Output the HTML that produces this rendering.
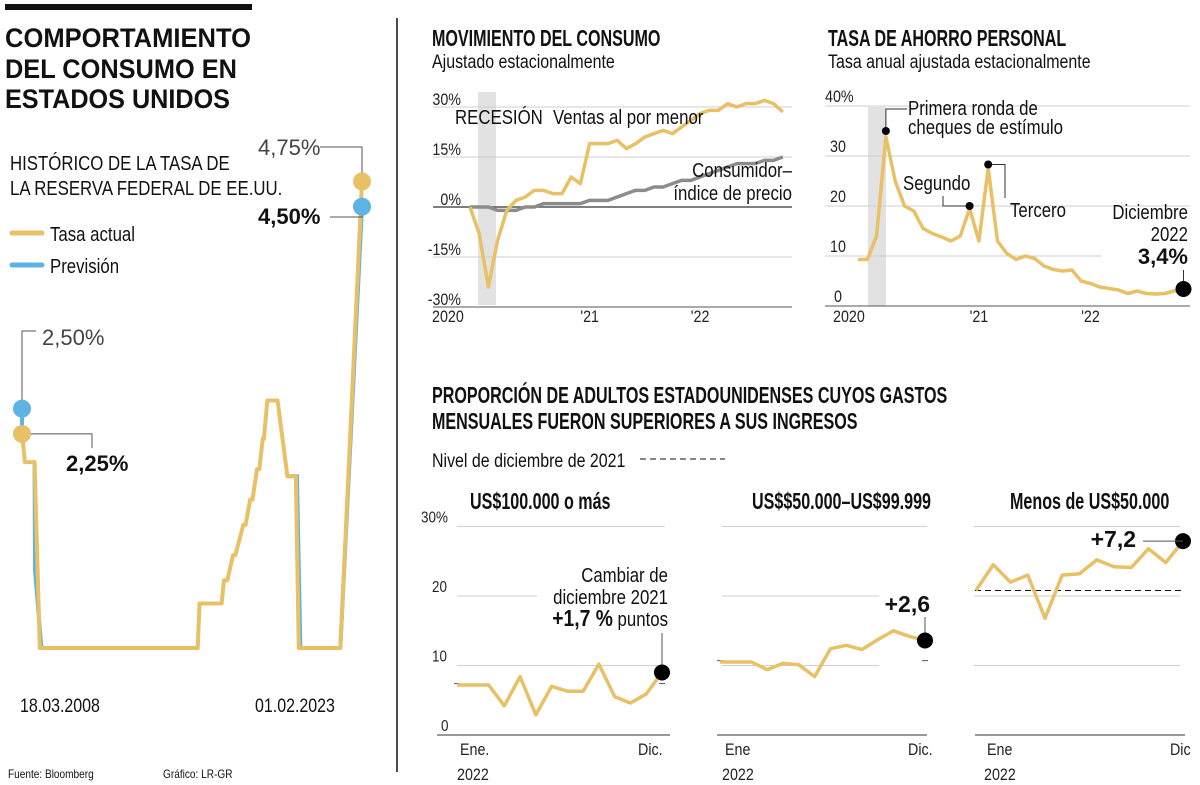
<!DOCTYPE html>
<html><head><meta charset="utf-8"><style>
html,body{margin:0;padding:0;background:#fff;}
svg{display:block;font-family:"Liberation Sans",sans-serif;}
.t{fill:#111;}
</style></head><body>
<svg id="root" width="1200" height="785" viewBox="0 0 1200 785" xmlns="http://www.w3.org/2000/svg">
<rect x="5" y="4" width="247" height="6" fill="#111"/>
<g font-family="Liberation Sans, sans-serif" font-weight="bold" font-size="27" fill="#111">
<text x="5" y="47" textLength="246" lengthAdjust="spacingAndGlyphs">COMPORTAMIENTO</text>
<text x="5" y="78" textLength="232" lengthAdjust="spacingAndGlyphs">DEL CONSUMO EN</text>
<text x="5" y="108" textLength="225" lengthAdjust="spacingAndGlyphs">ESTADOS UNIDOS</text>
</g>
<line x1="397" y1="18" x2="397" y2="772" stroke="#111" stroke-width="1.5"/>

<text x="10" y="170" font-size="20" class="t">HISTÓRICO DE LA TASA DE</text>
<text x="10" y="195" font-size="20" class="t">LA RESERVA FEDERAL DE EE.UU.</text>
<line x1="12" y1="233" x2="42" y2="233" stroke="#e8c066" stroke-width="5" stroke-linecap="round"/>
<text x="50" y="241" font-size="20" class="t">Tasa actual</text>
<line x1="12" y1="265" x2="42" y2="265" stroke="#5fb3e4" stroke-width="5" stroke-linecap="round"/>
<text x="50" y="273" font-size="20" class="t">Previsión</text>
<g id="fed"></g>
<text x="20" y="712" font-size="19" class="t">18.03.2008</text>
<text x="255" y="712" font-size="19" class="t">01.02.2023</text>
<text x="8" y="778" font-size="12" class="t">Fuente: Bloomberg</text>
<text x="163" y="778" font-size="12" class="t">Gráfico: LR-GR</text>

<text x="432" y="46" font-size="23" font-weight="bold" class="t">MOVIMIENTO DEL CONSUMO</text>
<text x="432" y="68" font-size="19" class="t">Ajustado estacionalmente</text>
<g id="cons"></g>

<text x="828" y="46" font-size="23" font-weight="bold" class="t">TASA DE AHORRO PERSONAL</text>
<text x="828" y="68" font-size="19" class="t">Tasa anual ajustada estacionalmente</text>
<g id="ahorro"></g>

<text x="432" y="403" font-size="23" font-weight="bold" class="t">PROPORCIÓN DE ADULTOS ESTADOUNIDENSES CUYOS GASTOS</text>
<text x="432" y="429" font-size="23" font-weight="bold" class="t">MENSUALES FUERON SUPERIORES A SUS INGRESOS</text>
<text x="432" y="467" font-size="19" class="t">Nivel de diciembre de 2021</text>
<line x1="640" y1="459" x2="725" y2="459" stroke="#111" stroke-dasharray="6,4"/>
<g id="prop"></g>
</svg>
<script>
const NS='http://www.w3.org/2000/svg';
function mk(parent,tag,attrs,txt){const e=document.createElementNS(NS,tag);for(const k in attrs)e.setAttribute(k,attrs[k]);if(txt!==undefined)e.textContent=txt;parent.appendChild(e);return e;}
const YEL='#e8c066',BLUE='#5fb3e4',GREY='#8c8c8c',GRID='#cfcfcf';

// ---------- Fed rate data ----------
const fedDates=[2008.2,2008.33,2008.75,2008.98,2015.9,2015.98,2016.95,2017.05,2017.2,2017.45,2017.55,2017.9,2018.0,2018.2,2018.3,2018.5,2018.6,2018.75,2018.8,2018.95,2019.4,2019.83,2020.2,2020.33,2022.15,2023.1];
const fedRates=[2.25,1.97,1.97,0.13,0.13,0.57,0.57,0.8,0.8,1.05,1.05,1.35,1.35,1.6,1.6,1.9,1.9,2.2,2.2,2.58,2.58,1.83,1.83,0.13,0.13,4.75];
const fcDates=[2008.2,2008.2,null,2008.75,2008.77,2009.05,null,2019.83,2020.25,2020.4,null,2022.15,2023.1];
const fcRates=[2.5,2.25,null,1.97,0.9,0.13,null,1.83,1.83,0.13,null,0.13,4.5];
const fedEnd=[4.75,4.50];
const fx=d=>22+(d-2008.2)*(340/14.9);
const fy=v=>648-(v-0.13)*101;
(function(){
 const g=document.getElementById('fed');
 let p='',mv=true;
 fcDates.forEach((d,i)=>{if(d===null){mv=true;return;}p+=(mv?'M':'L')+fx(d)+' '+fy(fcRates[i])+' ';mv=false;});
 const fl=mk(g,'path',{d:p,fill:'none',stroke:BLUE,'stroke-width':4});
 
 
 p=fedDates.map((d,i)=>(i?'L':'M')+fx(d)+' '+fy(fedRates[i])).join(' ');
 const al=mk(g,'path',{d:p,fill:'none',stroke:YEL,'stroke-width':4,'stroke-linejoin':'round'});
 
 
 const ex=fx(2023.1);
 const leaders=[`M22 ${fy(2.5)} V331 H36`,`M22 ${fy(2.25)} H92 V448`,`M${ex} ${fy(fedEnd[0])} V147 H320`,`M${ex} ${fy(fedEnd[1])} V217 H330`];
 leaders.forEach(l=>{const e=mk(g,'path',{d:l,fill:'none',stroke:'#555','stroke-width':1});
  
  });
 const dots=[[22,fy(2.5),BLUE],[22,fy(2.25),YEL],[ex,fy(fedEnd[1]),BLUE],[ex,fy(fedEnd[0]),YEL]];
 dots.forEach(d=>{const c=mk(g,'circle',{cx:d[0],cy:d[1],r:9,fill:d[2]});
  
  });
 const labs=[[42,345,'2,50%','normal'],[66,471,'2,25%','bold'],[258,155,'4,75%','normal'],[258,224,'4,50%','bold']];
 labs.forEach(l=>{const t=mk(g,'text',{x:l[0],y:l[1],'font-size':22,'font-weight':l[3],fill:l[3]=='bold'?'#111':'#444','data-nocompress':'1'},l[2]);
  
  });
})();

// ---------- Consumo ----------
const consTicks=[30,15,0,-15,-30];
const consTickLabels=['30%','15%','0%','-15%','-30%'];
const ventas=[0,-8,-24,-10,-1,2,3,5,5,4,4,9,7,19,19,19,20,17.5,19,21,22,23,22,24,26,28,29,29,31,30,31,31,32,31,28.5];
const cpi=[0,0,0,-1,-1,-1,0,0,1,1,1,1,1,2,2,2,3,4,5,5,6,6,7,8,8,9,10,11,12,13,13,13,14,14,15,15];
const xLabels=['2020',"'21","'22"];
(function(){
 const g=document.getElementById('cons');
 const x=m=>470+m*9.2, y=v=>207-v*(100/30);
 const r=mk(g,'rect',{x:478,y:92,width:18,height:213,fill:'#e2e2e2'});
 
 
 consTicks.forEach((v,i)=>{
  const l=mk(g,'line',{x1:433,x2:792,y1:y(v),y2:y(v),stroke:v===0||v===-30?'#555':GRID,'stroke-width':v===0?1.5:1});
  
  
  const t=mk(g,'text',{x:461,y:y(v)-2,'font-size':17,'text-anchor':'end',fill:'#222'},consTickLabels[i]);
  
  
 });
 [0,12,24].forEach((m,i)=>{const t=mk(g,'text',{x:x(m)+(i?0:-38),y:322,'font-size':17,fill:'#222'},xLabels[i]);
  
  });
 const c=mk(g,'path',{d:cpi.slice(0,35).map((v,i)=>(i?'L':'M')+x(i)+' '+y(v)).join(' '),fill:'none',stroke:GREY,'stroke-width':3.5});
 
 
 const v=mk(g,'path',{d:ventas.map((v,i)=>(i?'L':'M')+x(i)+' '+y(v)).join(' '),fill:'none',stroke:YEL,'stroke-width':3.5,'stroke-linejoin':'round'});
 
 
 const ls=[[455,124,'RECESIÓN','start'],[553,124,'Ventas al por menor','start'],[792,177,'Consumidor–','end'],[792,200,'índice de precio','end']];
 ls.forEach(l=>{const t=mk(g,'text',{x:l[0],y:l[1],'font-size':20,'text-anchor':l[3],fill:'#111'},l[2]);
  
  });
})();

// ---------- Ahorro ----------
const ahTicks=[40,30,20,10,0];
const ahTickLabels=['40%','30','20','10','0'];
const ahorro=[9.3,9.3,14,33.8,25,20,19,15.5,14.5,13.8,13,14,19.5,13,27.5,13,10.5,9.3,10,9.5,8,7.3,7,7.2,5,4.5,3.8,3.5,3.2,2.5,3,2.5,2.4,2.5,3,3.4];
(function(){
 const g=document.getElementById('ahorro');
 const x=m=>858+m*9.3, y=v=>306-v*5;
 const r=mk(g,'rect',{x:868,y:107,width:18,height:199,fill:'#e2e2e2'});
 
 
 ahTicks.forEach((v,i)=>{
  const l=mk(g,'line',{x1:825,x2:v===10?1102:1190,y1:y(v),y2:y(v),stroke:v===0?'#555':GRID,'stroke-width':1});
  
  
  const t=mk(g,'text',{x:v===40?825:(v===0?834:830),y:y(v)-4,'font-size':17,fill:'#222'},ahTickLabels[i]);
  
  
 });
 [0,12,24].forEach((m,i)=>{const t=mk(g,'text',{x:x(m)+(i?0:-25),y:322,'font-size':17,fill:'#222'},xLabels[i]);
  
  });
 const p=mk(g,'path',{d:ahorro.map((v,i)=>(i?'L':'M')+x(i)+' '+y(v)).join(' '),fill:'none',stroke:YEL,'stroke-width':3.5,'stroke-linejoin':'round'});
 
 
 const lead=[`M${x(3)} ${y(35)} V109 H907`,`M${x(12)} ${y(20)} H943 V196`,`M${x(14)} ${y(28.3)} H1005 V198`,`M${x(35)} ${y(3.4)} V270`];
 lead.forEach(d=>{const e=mk(g,'path',{d:d,fill:'none',stroke:'#333','stroke-width':1});
  
  });
 [[3,35,4],[12,20,4],[14,28.3,4],[35,3.4,8]].forEach(d=>{const c=mk(g,'circle',{cx:x(d[0]),cy:y(d[1]),r:d[2],fill:'#000'});
  
  });
 const ls=[[908,115,'Primera ronda de','start','normal',20],[908,134,'cheques de estímulo','start','normal',20],[903,190,'Segundo','start','normal',20],[1010,217,'Tercero','start','normal',20],[1188,219,'Diciembre','end','normal',20],[1188,241,'2022','end','normal',20],[1188,264,'3,4%','end','bold',22]];
 ls.forEach(l=>{const a={x:l[0],y:l[1],'font-size':l[5],'text-anchor':l[3],'font-weight':l[4],fill:'#111'};
  if(l[4]==='bold')a['data-nocompress']='1';
  const t=mk(g,'text',a,l[2]);
  
  });
})();

// ---------- Proporción ----------
const propTicks=[30,20,10,0];
const propTickLabels=['30%','20','10','0'];
const high=[7.2,7.2,7.2,4.2,8.4,2.9,7.0,6.3,6.3,10.2,5.5,4.6,5.9,9.0];
const mid=[10.5,10.5,10.5,9.4,10.3,10.1,8.4,12.4,12.9,12.3,13.7,15.0,14.2,13.6];
const low=[20.8,24.5,22,23,16.8,23,23.2,25.2,24.2,24.1,26.8,24.8,27.9];
const decLevels=[7.4,10.7,20.8];
const panelTitles=['US$100.000 o más','US$$50.000–US$99.999','Menos de US$50.000'];
(function(){
 const g=document.getElementById('prop');
 const y=v=>735-v*6.95;
 const panels=[{x0:457,x1:662,ax0:437,ax1:670,gx0:457,gx1:665,tx:470,data:high,ene:'Ene.',dic:'Dic.',dicx:638,ex:460},
  {x0:720,x1:925,ax0:717,ax1:927,gx0:722,gx1:927,tx:752,data:mid,ene:'Ene',dic:'Dic.',dicx:908,ex:725},
  {x0:976,x1:1183,ax0:975,ax1:1185,gx0:974,gx1:1180,tx:1010,data:low,ene:'Ene',dic:'Dic',dicx:1170,ex:987}];
 panels.forEach((p,pi)=>{
  const px=i=>p.x0+i*(p.x1-p.x0)/(p.data.length-1);
  const t=mk(g,'text',{x:p.tx,y:509,'font-size':23,'font-weight':'bold',fill:'#111'},panelTitles[pi]);
  
  
  propTicks.forEach((v,i)=>{
   let gx1=p.gx1;
   if(pi===0&&v===20)gx1=537;
   if(pi===1&&(v===20||v===10))gx1=879;
   const l=mk(g,'line',{x1:v===0?p.ax0:p.gx0,x2:v===0?p.ax1:gx1,y1:y(v),y2:y(v),stroke:v===0?'#333':GRID,'stroke-width':1});
   
   
   if(pi===0){const tl=mk(g,'text',{x:v===30?421:(v===0?441:432),y:y(v)-4,'font-size':16,fill:'#222'},propTickLabels[i]);
    
    }
  });
  if(pi===2){const d=mk(g,'line',{x1:p.ax0,x2:p.ax1,y1:y(decLevels[2]),y2:y(decLevels[2]),stroke:'#111','stroke-dasharray':'6,4'});
   
   }
  else{[p.x0,p.x1].forEach(xx=>{const d=mk(g,'line',{x1:xx-3,x2:xx+3,y1:y(decLevels[pi]),y2:y(decLevels[pi]),stroke:'#555'});
   
   });}
  const ln=mk(g,'path',{d:p.data.map((v,i)=>(i?'L':'M')+px(i)+' '+y(v)).join(' '),fill:'none',stroke:YEL,'stroke-width':3.5,'stroke-linejoin':'round'});
  
  
  const last=p.data[p.data.length-1];
  const c=mk(g,'circle',{cx:p.x1,cy:y(last),r:8,fill:'#000'});
  
  
  const e=mk(g,'text',{x:p.ex,y:755,'font-size':17,fill:'#222'},p.ene);
  
  
  const yr=mk(g,'text',{x:p.ex-3,y:780,'font-size':17,fill:'#222'},'2022');
  
  
  const dc=mk(g,'text',{x:p.dicx,y:755,'font-size':17,fill:'#222'},p.dic);
  
  
 });
 const leads=['M662 '+(y(high[high.length-1])-8)+' V633','M925 '+(y(mid[mid.length-1])-8)+' V617','M1183 '+y(low[low.length-1])+' H1143'];
 leads.forEach(d=>{const e=mk(g,'path',{d:d,fill:'none',stroke:'#555','stroke-width':1});
  
  });
 const ls=[[668,582,'Cambiar de','normal'],[668,604,'diciembre 2021','normal'],[930,612,'+2,6','bold'],[1136,547,'+7,2','bold']];
 ls.forEach(l=>{const a={x:l[0],y:l[1],'font-size':l[3]=='bold'?23:20,'text-anchor':'end','font-weight':l[3],fill:'#111'};
  if(l[3]==='bold')a['data-nocompress']='1';
  const t=mk(g,'text',a,l[2]);
  
  });
 const t=mk(g,'text',{x:668,y:626,'font-size':20,'text-anchor':'end',fill:'#111'});
 
 
 mk(t,'tspan',{'font-weight':'bold','font-size':23},'+1,7 %');
 mk(t,'tspan',{},' puntos');
})();

// condense text to mimic narrow typeface
document.querySelectorAll('#root text').forEach(t=>{
 if(t.hasAttribute('textLength')||t.getAttribute('data-nocompress'))return;
 const bold=t.getAttribute('font-weight')==='bold';
 const big=t.getAttribute('font-size')==='23';
 const f=bold?(big?0.70:0.77):0.84;
 const w=t.getComputedTextLength();
 if(w>0){t.setAttribute('textLength',(w*f).toFixed(1));t.setAttribute('lengthAdjust','spacingAndGlyphs');}
});
</script>
</body></html>
